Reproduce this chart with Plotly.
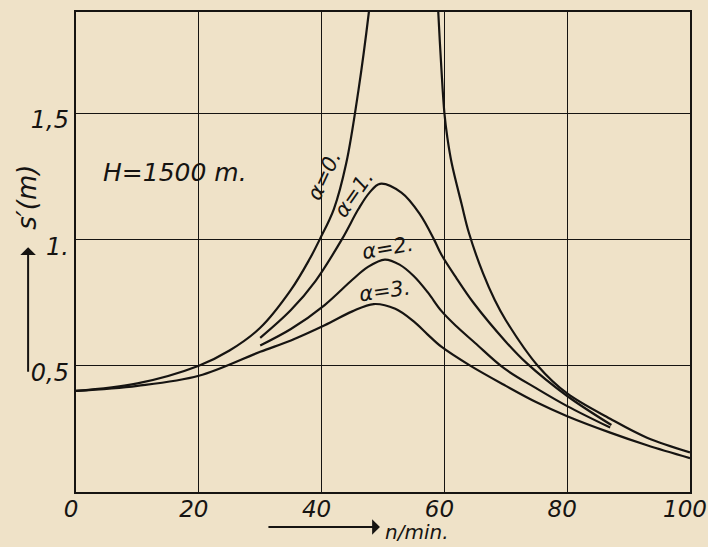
import plotly.graph_objects as go

# ---- data ----
n_a0_left = [0, 10, 20, 25, 30, 35, 38, 39.7, 42, 44, 46, 47.7, 48.4]
s_a0_left = [0.40, 0.43, 0.50, 0.56, 0.65, 0.80, 0.92, 1.00, 1.12, 1.30, 1.59, 1.90, 2.06]

n_a0_right = [58.7, 59.0, 59.5, 60.0, 60.5, 61.2, 62.8, 64.0, 66.3, 68.2, 70.0, 75.2, 80, 87, 93, 100]
s_a0_right = [2.06, 1.90, 1.68, 1.50, 1.40, 1.30, 1.14, 1.025, 0.865, 0.76, 0.68, 0.50, 0.39, 0.29, 0.215, 0.157]

n_a1 = [30, 35, 39, 43.3, 46, 47.8, 49.5, 53, 56, 58.3, 59.5, 62, 64.7, 70, 73.4, 80, 87.2]
s_a1 = [0.61, 0.72, 0.835, 1.0, 1.12, 1.185, 1.22, 1.185, 1.10, 1.0, 0.94, 0.845, 0.75, 0.595, 0.51, 0.38, 0.265]

n_a2 = [30, 35, 40.5, 45, 47.5, 50.3, 52.7, 55, 57.3, 59.5, 62, 65, 69.7, 75, 80, 87]
s_a2 = [0.58, 0.645, 0.74, 0.84, 0.89, 0.92, 0.90, 0.855, 0.79, 0.717, 0.655, 0.59, 0.49, 0.41, 0.34, 0.255]

n_a3 = [0, 10, 20, 30, 35, 40.5, 45, 48.5, 52, 55, 57.2, 59.5, 64.2, 70, 75, 80, 87, 93, 100]
s_a3 = [0.40, 0.42, 0.46, 0.555, 0.60, 0.66, 0.715, 0.744, 0.725, 0.675, 0.625, 0.575, 0.5, 0.42, 0.355, 0.30, 0.235, 0.185, 0.134]

x_ticks = [0, 20, 40, 60, 80, 100]
x_tick_text = ["0", "20", "40", "60", "80", "100"]
y_ticks = [0.5, 1.0, 1.5]
y_tick_text = ["0,5", "1.", "1,5"]

curve_labels = ["α=0.", "α=1.", "α=2.", "α=3."]
label_n = [40.4, 45.2, 50.7, 50.2]
label_s = [1.25, 1.18, 0.965, 0.795]
label_angle = [-65, -55, -10, -8]

# ---- figure ----
INK = "#161412"
BG = "#efe2c8"
FONT = "DejaVu Sans"

fig = go.Figure()
for xs, ys in [(n_a0_left, s_a0_left), (n_a0_right, s_a0_right),
               (n_a1, s_a1), (n_a2, s_a2), (n_a3, s_a3)]:
    fig.add_trace(go.Scatter(x=xs, y=ys, mode="lines",
                             line=dict(color=INK, width=2.2, shape="spline", smoothing=1.0),
                             showlegend=False, hoverinfo="skip"))

for t, xv, yv, a in zip(curve_labels, label_n, label_s, label_angle):
    fig.add_annotation(x=xv, y=yv, text=t, showarrow=False, textangle=a,
                       xanchor="center", yanchor="middle",
                       font=dict(family=FONT, size=21, color=INK, style="italic"))

fig.add_annotation(x=16.1, y=1.265, text="H=1500 m.", showarrow=False,
                   xanchor="center", yanchor="middle",
                   font=dict(family=FONT, size=25, color=INK, style="italic"))

# y-axis title with arrow
fig.add_annotation(xref="paper", yref="paper", x=-0.078, y=0.51, ax=0, ay=126,
                   axref="pixel", ayref="pixel", text="", showarrow=True,
                   arrowhead=1, arrowsize=1.3, arrowwidth=2, arrowcolor=INK)
fig.add_annotation(xref="paper", yref="paper", x=-0.080, y=0.615, text="s′(m)",
                   showarrow=False, textangle=-90, xanchor="center", yanchor="middle",
                   font=dict(family=FONT, size=26, color=INK, style="italic"))

# x-axis title with arrow
fig.add_annotation(xref="paper", yref="paper", x=0.495, y=-0.073, ax=-113, ay=0,
                   axref="pixel", ayref="pixel", text="", showarrow=True,
                   arrowhead=1, arrowsize=1.3, arrowwidth=2, arrowcolor=INK)
fig.add_annotation(xref="paper", yref="paper", x=0.500, y=-0.083, text="n/min.",
                   showarrow=False, xanchor="left", yanchor="middle",
                   font=dict(family=FONT, size=20, color=INK, style="italic"))

fig.update_layout(
    width=708, height=547,
    margin=dict(l=76, r=18, t=12, b=55, autoexpand=False),
    paper_bgcolor=BG, plot_bgcolor=BG,
    showlegend=False,
    xaxis=dict(range=[0, 100], tickvals=x_ticks, ticktext=x_tick_text,
               showgrid=True, gridcolor=INK, gridwidth=1.3, zeroline=False,
               showline=True, linecolor=INK, linewidth=2.4, mirror=True,
               automargin=False,
               ticks="", ticklabelstandoff=-5, ticklabelshift=-5,
               ticklabeloverflow="allow",
               tickfont=dict(family=FONT, size=23, color=INK, style="italic")),
    yaxis=dict(range=[0, 1.9], tickvals=y_ticks, ticktext=y_tick_text,
               showgrid=True, gridcolor=INK, gridwidth=1.3, zeroline=False,
               showline=True, linecolor=INK, linewidth=2.4, mirror=True,
               automargin=False,
               ticks="", ticklabelstandoff=0, ticklabelshift=7,
               tickfont=dict(family=FONT, size=24, color=INK, style="italic")),
)

fig.write_html("out.html", config={"displayModeBar": False},
               post_script="document.body.style.margin='0';document.body.style.background='%s';" % BG)
